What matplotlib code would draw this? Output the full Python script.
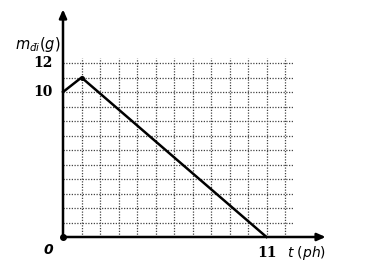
import matplotlib.pyplot as plt
from matplotlib.patches import FancyArrowPatch

# data
t_vals = [0, 1, 11]
m_vals = [10, 11, 0]
grid_t = list(range(1, 13))
grid_m = list(range(1, 13))
y_ticks = [10, 12]
x_ticks = [11]

fig = plt.figure(figsize=(3.65, 2.66), dpi=100)
ax = fig.add_axes([0, 0, 1, 1])
# pixel mapping: origin at (63, 237), 18.5 px per hour, 14.5 px per gram
ax.set_xlim(-63 / 18.5, (365 - 63) / 18.5)
ax.set_ylim((237 - 266) / 14.5, 237 / 14.5)
ax.axis('off')

# dotted grid
for t in grid_t:
    ax.plot([t, t], [0, 12.35], color='#444444', lw=0.9, ls=(0, (1, 1.2)), zorder=1)
for m in grid_m:
    ax.plot([0, 12.45], [m, m], color='#444444', lw=0.9, ls=(0, (1, 1.2)), zorder=1)

# axes with arrows
ax.add_patch(FancyArrowPatch((0, 0), (14.2, 0), arrowstyle='-|>,head_length=5,head_width=2.2',
                             color='black', lw=1.8, shrinkA=0, shrinkB=0, zorder=3))
ax.add_patch(FancyArrowPatch((0, 0), (0, 15.7), arrowstyle='-|>,head_length=5,head_width=2.2',
                             color='black', lw=1.8, shrinkA=0, shrinkB=0, zorder=3))

# the graph
ax.plot(t_vals, m_vals, color='black', lw=1.8, zorder=4)
ax.plot([0], [0], 'o', color='black', ms=4, zorder=5)
ax.plot([t_vals[1]], [m_vals[1]], 'o', color='black', ms=2.5, zorder=5)

# labels
fs = 10
for y in y_ticks:
    ax.text(-0.55, y, str(y), ha='right', va='center', fontsize=fs,
            family='DejaVu Serif', weight='bold')
for x in x_ticks:
    ax.text(x, -1.1, str(x), ha='center', va='center', fontsize=fs,
            family='DejaVu Serif', weight='bold')
ax.text(-0.8, -0.9, '0', ha='center', va='center', fontsize=fs,
        family='DejaVu Sans', style='italic', weight='bold')
ax.text(-2.6, 13.3, r'$m_{\mathit{đi}}(g)$', ha='left', va='center', fontsize=10.5)
ax.text(12.1, -1.1, r'$t\ (ph)$', ha='left', va='center', fontsize=10)

fig.savefig('out.png', dpi=100)
